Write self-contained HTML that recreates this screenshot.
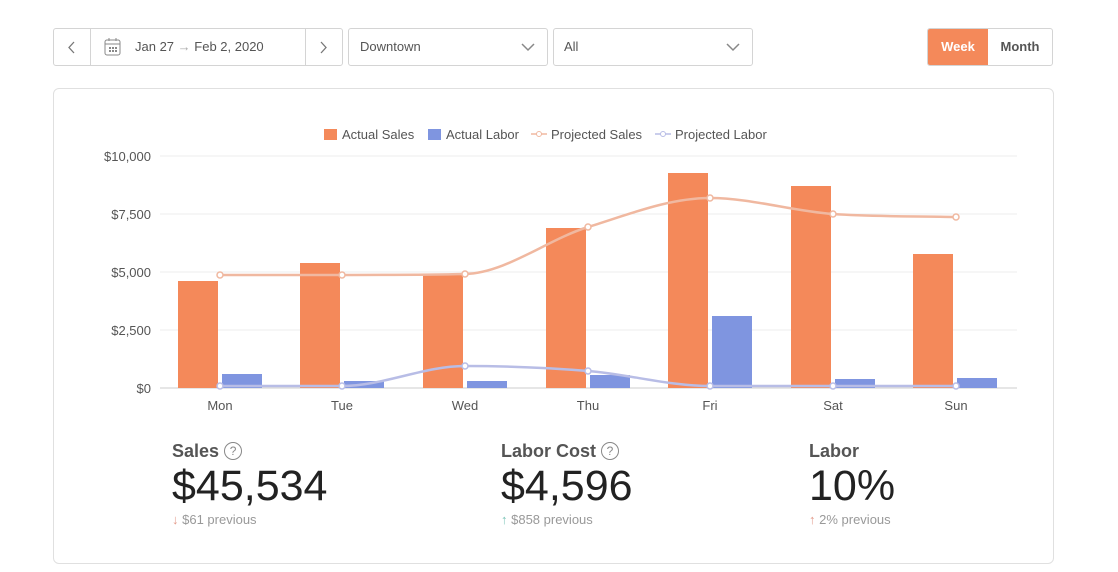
<!DOCTYPE html>
<html><head><meta charset="utf-8"><style>
body{margin:0;width:1118px;height:572px;background:#fff;font-family:"Liberation Sans",sans-serif;position:relative;overflow:hidden;color:#444}
.box{position:absolute;border:1px solid #d4d4d4;border-radius:3px;background:#fff;font-size:13px;color:#555}
.card{position:absolute;left:53px;top:88px;width:999px;height:474px;border:1px solid #e0e0e0;border-radius:6px}
.stat{position:absolute}
.stat .t{font-size:18px;font-weight:bold;color:#555}
.stat .v{font-size:43px;color:#222;margin-top:0px;letter-spacing:0px}
.stat .p{font-size:13px;color:#999;margin-top:1px}
.q{display:inline-block;width:16px;height:16px;border:1px solid #888;border-radius:50%;font-size:12px;text-align:center;line-height:16px;font-weight:normal;color:#888;vertical-align:2px}
</style></head><body>
<div class="box" style="left:53px;top:28px;width:288px;height:36px">
 <div style="position:absolute;left:36px;top:0;width:1px;height:36px;background:#d4d4d4"></div>
 <div style="position:absolute;left:251px;top:0;width:1px;height:36px;background:#d4d4d4"></div>
 <svg style="position:absolute;left:14px;top:12px" width="8" height="13"><polyline points="6,1 1,6.5 6,12" fill="none" stroke="#777" stroke-width="1.3"/></svg>
 <svg style="position:absolute;left:266px;top:12px" width="8" height="13"><polyline points="1,1 6,6.5 1,12" fill="none" stroke="#777" stroke-width="1.3"/></svg>
 <svg style="position:absolute;left:50px;top:8px" width="18" height="20"><rect x="1" y="3" width="15" height="15" rx="2" fill="none" stroke="#888"/><line x1="1" y1="7" x2="16" y2="7" stroke="#888"/><line x1="5" y1="1" x2="5" y2="4" stroke="#888"/><line x1="12" y1="1" x2="12" y2="4" stroke="#888"/><g fill="#888"><rect x="5" y="10" width="2" height="2"/><rect x="8" y="10" width="2" height="2"/><rect x="11" y="10" width="2" height="2"/><rect x="5" y="13" width="2" height="2"/><rect x="8" y="13" width="2" height="2"/><rect x="11" y="13" width="2" height="2"/></g></svg>
 <span style="position:absolute;left:81px;top:10px">Jan 27 <span style="color:#aaa">→</span> Feb 2, 2020</span>
</div>
<div class="box" style="left:348px;top:28px;width:198px;height:36px"><span style="position:absolute;left:11px;top:10px">Downtown</span><svg style="position:absolute;left:172px;top:14px" width="14" height="9"><polyline points="1,1 7,7 13,1" fill="none" stroke="#888" stroke-width="1.5"/></svg></div>
<div class="box" style="left:553px;top:28px;width:198px;height:36px"><span style="position:absolute;left:10px;top:10px">All</span><svg style="position:absolute;left:172px;top:14px" width="14" height="9"><polyline points="1,1 7,7 13,1" fill="none" stroke="#888" stroke-width="1.5"/></svg></div>
<div class="box" style="left:927px;top:28px;width:124px;height:36px;overflow:hidden">
 <div style="position:absolute;left:0;top:0;width:60px;height:36px;background:#f4895a;color:#fff;font-weight:bold;text-align:center;line-height:36px">Week</div>
 <div style="position:absolute;left:60px;top:0;width:64px;height:36px;text-align:center;line-height:36px;font-weight:bold;color:#555">Month</div>
</div>
<div class="card"></div>
<svg id="ch" style="position:absolute;left:0;top:0" width="1118" height="572" font-family="Liberation Sans, sans-serif" font-size="13" fill="#555">
 <g stroke="#eee"><line x1="160" y1="156" x2="1017" y2="156"/><line x1="160" y1="214" x2="1017" y2="214"/><line x1="160" y1="272" x2="1017" y2="272"/><line x1="160" y1="330" x2="1017" y2="330"/></g>
 <line x1="160" y1="388" x2="1017" y2="388" stroke="#ccc"/>
 <g text-anchor="end"><text x="151" y="161">$10,000</text><text x="151" y="219">$7,500</text><text x="151" y="277">$5,000</text><text x="151" y="335">$2,500</text><text x="151" y="393">$0</text></g>
 <g text-anchor="middle"><text x="220" y="410">Mon</text><text x="342" y="410">Tue</text><text x="465" y="410">Wed</text><text x="588" y="410">Thu</text><text x="710" y="410">Fri</text><text x="833" y="410">Sat</text><text x="956" y="410">Sun</text></g>
 <g fill="#f4895a"><rect x="178" y="281" width="40" height="107"/><rect x="300" y="263" width="40" height="125"/><rect x="423" y="274" width="40" height="114"/><rect x="546" y="228" width="40" height="160"/><rect x="668" y="173" width="40" height="215"/><rect x="791" y="186" width="40" height="202"/><rect x="913" y="254" width="40" height="134"/></g>
 <g fill="#7f95e0"><rect x="222" y="374" width="40" height="14"/><rect x="344" y="381" width="40" height="7"/><rect x="467" y="381" width="40" height="7"/><rect x="590" y="375" width="40" height="13"/><rect x="712" y="316" width="40" height="72"/><rect x="835" y="379" width="40" height="9"/><rect x="957" y="378" width="40" height="10"/></g>
 <path id="ps" fill="none" stroke="#f0b8a0" stroke-width="2.5"/>
 <path id="pl" fill="none" stroke="#b8bde6" stroke-width="2.5"/>
 <g id="pts"></g>
 <rect x="324" y="129" width="13" height="11" fill="#f4895a"/><text x="342" y="139">Actual Sales</text>
 <rect x="428" y="129" width="13" height="11" fill="#7f95e0"/><text x="446" y="139">Actual Labor</text>
 <line x1="531" y1="134" x2="547" y2="134" stroke="#f0b8a0" stroke-width="1.5"/><circle cx="539" cy="134" r="2.5" fill="#fff" stroke="#f0b8a0"/><text x="551" y="139">Projected Sales</text>
 <line x1="655" y1="134" x2="671" y2="134" stroke="#b8bde6" stroke-width="1.5"/><circle cx="663" cy="134" r="2.5" fill="#fff" stroke="#b8bde6"/><text x="675" y="139">Projected Labor</text>
</svg>
<div class="stat" style="left:172px;top:441px"><div class="t">Sales <span class="q">?</span></div><div class="v">$45,534</div><div class="p"><span style="color:#e39a8a">↓</span> $61 previous</div></div>
<div class="stat" style="left:501px;top:441px"><div class="t">Labor Cost <span class="q">?</span></div><div class="v">$4,596</div><div class="p"><span style="color:#7cc4b8">↑</span> $858 previous</div></div>
<div class="stat" style="left:809px;top:441px"><div class="t">Labor</div><div class="v">10%</div><div class="p"><span style="color:#e39a8a">↑</span> 2% previous</div></div>
<script>
var xs=[220,342,465,588,710,833,956];
function path(ys){var n=xs.length,d=[],m=[];for(var i=0;i<n-1;i++)d.push((ys[i+1]-ys[i])/(xs[i+1]-xs[i]));
m[0]=d[0];m[n-1]=d[n-2];for(var i=1;i<n-1;i++){m[i]=(d[i-1]*d[i]<=0)?0:(d[i-1]+d[i])/2;}
for(var i=0;i<n-1;i++){if(d[i]==0){m[i]=0;m[i+1]=0;continue;}var a=m[i]/d[i],b=m[i+1]/d[i],s=a*a+b*b;if(s>9){var t=3/Math.sqrt(s);m[i]=t*a*d[i];m[i+1]=t*b*d[i];}}
var p="M"+xs[0]+","+ys[0];for(var i=0;i<n-1;i++){var h=(xs[i+1]-xs[i])/3;p+=" C"+(xs[i]+h)+","+(ys[i]+m[i]*h)+" "+(xs[i+1]-h)+","+(ys[i+1]-m[i+1]*h)+" "+xs[i+1]+","+ys[i+1];}return p;}
var s=[275,275,274,227,198,214,217],l=[386,386,366,371,386,386,386];
document.getElementById("ps").setAttribute("d",path(s));
document.getElementById("pl").setAttribute("d",path(l));
var g=document.getElementById("pts"),h="";
for(var i=0;i<7;i++){h+='<circle cx="'+xs[i]+'" cy="'+s[i]+'" r="3" fill="#fff" stroke="#f0b8a0" stroke-width="1.5"/>';h+='<circle cx="'+xs[i]+'" cy="'+l[i]+'" r="3" fill="#fff" stroke="#b8bde6" stroke-width="1.5"/>';}
g.innerHTML=h;
</script>
</body></html>
